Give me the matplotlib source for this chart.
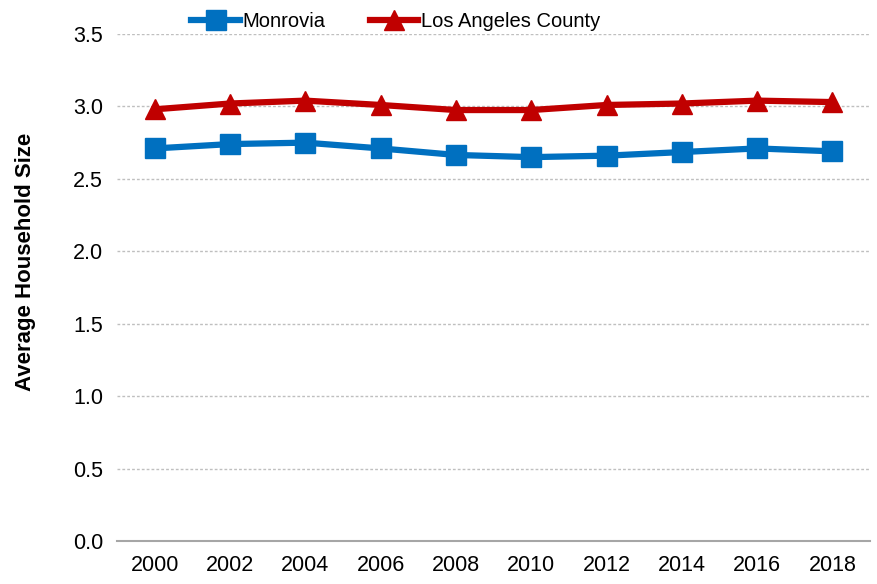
import matplotlib.pyplot as plt

years = ["2000", "2002", "2004", "2006", "2008", "2010", "2012", "2014", "2016", "2018"]
monrovia = [2.71, 2.74, 2.75, 2.71, 2.665, 2.65, 2.66, 2.685, 2.71, 2.69]
la_county = [2.98, 3.02, 3.04, 3.01, 2.975, 2.975, 3.01, 3.02, 3.04, 3.03]
y_ticks = [0.0, 0.5, 1.0, 1.5, 2.0, 2.5, 3.0, 3.5]

fig = plt.figure(figsize=(8.78, 5.84), dpi=100)
ax = fig.add_axes([0.1333, 0.0736, 0.8577, 0.8682])

x = list(range(len(years)))
ax.plot(x, monrovia, color="#0070C0", lw=4.5, marker="s", ms=14, label="Monrovia")
ax.plot(x, la_county, color="#C00000", lw=4.5, marker="^", ms=14, label="Los Angeles County")

ax.set_xlim(-0.5, len(years) - 0.5)
ax.set_ylim(0, 3.5)
ax.set_yticks(y_ticks)
ax.set_yticklabels([f"{v:.1f}" for v in y_ticks])
ax.set_xticks(x)
ax.set_xticklabels(years)
ax.tick_params(length=0, labelsize=15.5, pad=10)
for lab in ax.get_xticklabels() + ax.get_yticklabels():
    lab.set_fontfamily("Liberation Sans")

ax.grid(axis="y", color="#BFBFBF", ls=(0, (2, 1.5)), lw=1)
ax.set_axisbelow(True)
for side in ["top", "right", "left"]:
    ax.spines[side].set_visible(False)
ax.spines["bottom"].set_color("#A6A6A6")
ax.spines["bottom"].set_linewidth(1.5)

ax.set_ylabel("Average Household Size", fontsize=16, fontweight="bold",
              fontfamily="Liberation Sans")
ax.yaxis.set_label_coords(-0.108, 0.55)

ax.legend(loc="lower left", bbox_to_anchor=(0.088, 0.99), ncol=2, frameon=False,
          handlelength=2.4, handletextpad=0.15, columnspacing=2.2,
          borderaxespad=0, prop={"family": "Liberation Sans", "size": 14.5})

fig.savefig("out.png", dpi=100)
